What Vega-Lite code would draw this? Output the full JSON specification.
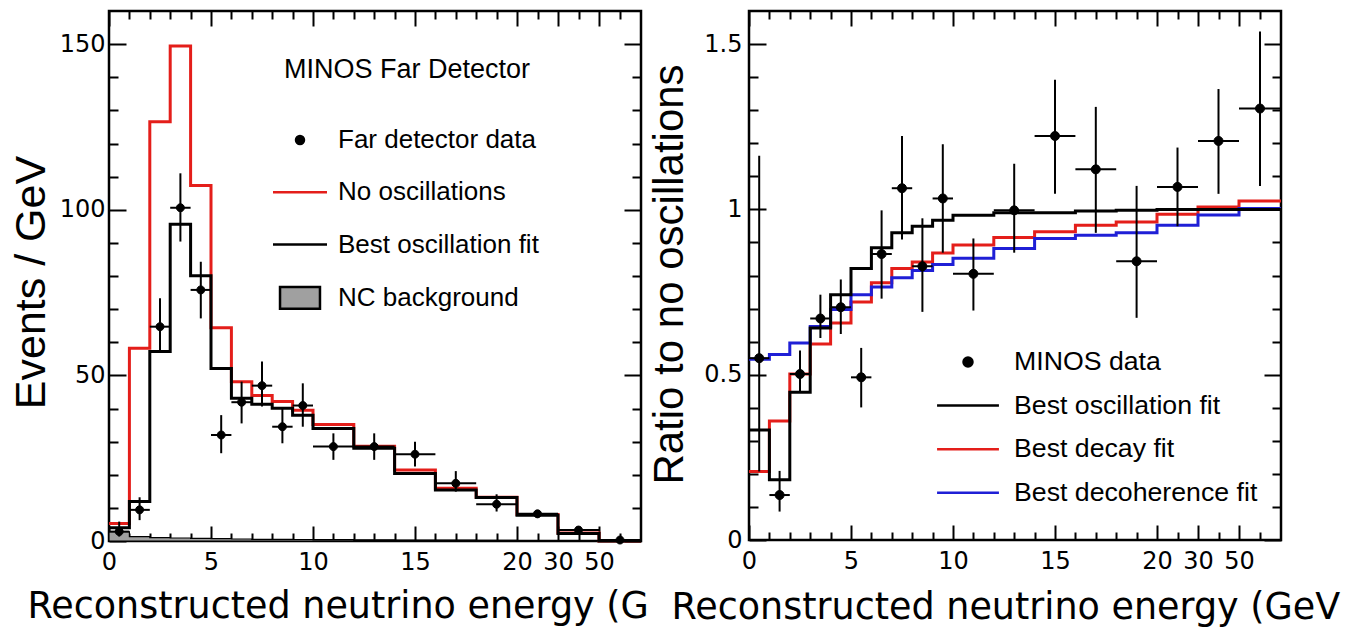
{
  "$schema": "https://vega.github.io/schema/vega-lite/v6.json",
  "background": "white",
  "padding": {"left": 8, "top": 8, "right": 0, "bottom": 0},
  "bounds": "flush",
  "spacing": 108,
  "datasets": {
    "far_hist": [
      {"s": "No oscillations", "E": 0, "v": 5.3}, {"s": "No oscillations", "E": 1, "v": 58.2}, {"s": "No oscillations", "E": 2, "v": 126.6}, {"s": "No oscillations", "E": 3, "v": 149.4}, {"s": "No oscillations", "E": 4, "v": 107.3}, {"s": "No oscillations", "E": 5, "v": 64.4}, {"s": "No oscillations", "E": 6, "v": 48.1}, {"s": "No oscillations", "E": 7, "v": 43.9}, {"s": "No oscillations", "E": 8, "v": 42.1}, {"s": "No oscillations", "E": 9, "v": 39.5}, {"s": "No oscillations", "E": 10, "v": 35.2}, {"s": "No oscillations", "E": 12, "v": 28.6}, {"s": "No oscillations", "E": 14, "v": 21.4}, {"s": "No oscillations", "E": 16, "v": 15.9}, {"s": "No oscillations", "E": 18, "v": 13.2}, {"s": "No oscillations", "E": 20, "v": 8.0}, {"s": "No oscillations", "E": 30, "v": 2.4}, {"s": "No oscillations", "E": 50, "v": 0}, {"s": "No oscillations", "E": 100, "v": 0},
      {"s": "Best oscillation fit", "E": 0, "v": 4.0}, {"s": "Best oscillation fit", "E": 1, "v": 11.9}, {"s": "Best oscillation fit", "E": 2, "v": 57.2}, {"s": "Best oscillation fit", "E": 3, "v": 95.6}, {"s": "Best oscillation fit", "E": 4, "v": 80.1}, {"s": "Best oscillation fit", "E": 5, "v": 52.1}, {"s": "Best oscillation fit", "E": 6, "v": 43.1}, {"s": "Best oscillation fit", "E": 7, "v": 41.3}, {"s": "Best oscillation fit", "E": 8, "v": 40.1}, {"s": "Best oscillation fit", "E": 9, "v": 38.0}, {"s": "Best oscillation fit", "E": 10, "v": 34.0}, {"s": "Best oscillation fit", "E": 12, "v": 28.0}, {"s": "Best oscillation fit", "E": 14, "v": 20.4}, {"s": "Best oscillation fit", "E": 16, "v": 15.4}, {"s": "Best oscillation fit", "E": 18, "v": 13.1}, {"s": "Best oscillation fit", "E": 20, "v": 7.8}, {"s": "Best oscillation fit", "E": 30, "v": 2.3}, {"s": "Best oscillation fit", "E": 50, "v": 0}, {"s": "Best oscillation fit", "E": 100, "v": 0},
      {"s": "NC background", "E": 0, "v": 2.8}, {"s": "NC background", "E": 1, "v": 1.3}, {"s": "NC background", "E": 2, "v": 1.0}, {"s": "NC background", "E": 3, "v": 0.9}, {"s": "NC background", "E": 4, "v": 0.8}, {"s": "NC background", "E": 5, "v": 0.7}, {"s": "NC background", "E": 6, "v": 0.6}, {"s": "NC background", "E": 7, "v": 0.5}, {"s": "NC background", "E": 8, "v": 0.5}, {"s": "NC background", "E": 9, "v": 0.45}, {"s": "NC background", "E": 10, "v": 0.4}, {"s": "NC background", "E": 12, "v": 0.35}, {"s": "NC background", "E": 14, "v": 0.3}, {"s": "NC background", "E": 16, "v": 0.25}, {"s": "NC background", "E": 18, "v": 0.2}, {"s": "NC background", "E": 20, "v": 0.15}, {"s": "NC background", "E": 30, "v": 0.1}, {"s": "NC background", "E": 50, "v": 0}, {"s": "NC background", "E": 100, "v": 0}
    ],
    "far_pts": [
      {"s": "Far detector data", "E": 0.5, "lo": 0, "hi": 1, "v": 2.84, "vlo": 1.33, "vhi": 5.86},
      {"s": "Far detector data", "E": 1.5, "lo": 1, "hi": 2, "v": 9.4, "vlo": 6.3, "vhi": 13.2},
      {"s": "Far detector data", "E": 2.5, "lo": 2, "hi": 3, "v": 64.7, "vlo": 57.2, "vhi": 73.3},
      {"s": "Far detector data", "E": 3.5, "lo": 3, "hi": 4, "v": 100.6, "vlo": 90.4, "vhi": 111.0},
      {"s": "Far detector data", "E": 4.5, "lo": 4, "hi": 5, "v": 75.8, "vlo": 67.2, "vhi": 84.3},
      {"s": "Far detector data", "E": 5.5, "lo": 5, "hi": 6, "v": 32.0, "vlo": 26.5, "vhi": 38.0},
      {"s": "Far detector data", "E": 6.5, "lo": 6, "hi": 7, "v": 41.9, "vlo": 35.5, "vhi": 48.1},
      {"s": "Far detector data", "E": 7.5, "lo": 7, "hi": 8, "v": 46.9, "vlo": 40.6, "vhi": 54.2},
      {"s": "Far detector data", "E": 8.5, "lo": 8, "hi": 9, "v": 34.5, "vlo": 29.5, "vhi": 40.1},
      {"s": "Far detector data", "E": 9.5, "lo": 9, "hi": 10, "v": 40.9, "vlo": 34.5, "vhi": 47.6},
      {"s": "Far detector data", "E": 11, "lo": 10, "hi": 12, "v": 28.5, "vlo": 24.5, "vhi": 32.5},
      {"s": "Far detector data", "E": 13, "lo": 12, "hi": 14, "v": 28.5, "vlo": 24.5, "vhi": 32.5},
      {"s": "Far detector data", "E": 15, "lo": 14, "hi": 16, "v": 26.2, "vlo": 22.5, "vhi": 30.0},
      {"s": "Far detector data", "E": 17, "lo": 16, "hi": 18, "v": 17.4, "vlo": 14.9, "vhi": 21.1},
      {"s": "Far detector data", "E": 19, "lo": 18, "hi": 20, "v": 11.1, "vlo": 8.9, "vhi": 14.1},
      {"s": "Far detector data", "E": 25, "lo": 20, "hi": 30, "v": 8.2, "vlo": 7.0, "vhi": 9.3},
      {"s": "Far detector data", "E": 40, "lo": 30, "hi": 50, "v": 3.3, "vlo": 2.5, "vhi": 4.1},
      {"s": "Far detector data", "E": 75, "lo": 50, "hi": 100, "v": 0.3, "vlo": 0, "vhi": 0.6}
    ],
    "ratio_hist": [
      {"s": "Best decay fit", "E": 0, "v": 0.207}, {"s": "Best decay fit", "E": 1, "v": 0.36}, {"s": "Best decay fit", "E": 2, "v": 0.502}, {"s": "Best decay fit", "E": 3, "v": 0.593}, {"s": "Best decay fit", "E": 4, "v": 0.656}, {"s": "Best decay fit", "E": 5, "v": 0.72}, {"s": "Best decay fit", "E": 6, "v": 0.778}, {"s": "Best decay fit", "E": 7, "v": 0.821}, {"s": "Best decay fit", "E": 8, "v": 0.841}, {"s": "Best decay fit", "E": 9, "v": 0.868}, {"s": "Best decay fit", "E": 10, "v": 0.892}, {"s": "Best decay fit", "E": 12, "v": 0.915}, {"s": "Best decay fit", "E": 14, "v": 0.932}, {"s": "Best decay fit", "E": 16, "v": 0.952}, {"s": "Best decay fit", "E": 18, "v": 0.962}, {"s": "Best decay fit", "E": 20, "v": 0.985}, {"s": "Best decay fit", "E": 30, "v": 1.007}, {"s": "Best decay fit", "E": 50, "v": 1.025}, {"s": "Best decay fit", "E": 100, "v": 1.025},
      {"s": "Best decoherence fit", "E": 0, "v": 0.547}, {"s": "Best decoherence fit", "E": 1, "v": 0.561}, {"s": "Best decoherence fit", "E": 2, "v": 0.596}, {"s": "Best decoherence fit", "E": 3, "v": 0.646}, {"s": "Best decoherence fit", "E": 4, "v": 0.697}, {"s": "Best decoherence fit", "E": 5, "v": 0.742}, {"s": "Best decoherence fit", "E": 6, "v": 0.765}, {"s": "Best decoherence fit", "E": 7, "v": 0.793}, {"s": "Best decoherence fit", "E": 8, "v": 0.815}, {"s": "Best decoherence fit", "E": 9, "v": 0.833}, {"s": "Best decoherence fit", "E": 10, "v": 0.852}, {"s": "Best decoherence fit", "E": 12, "v": 0.882}, {"s": "Best decoherence fit", "E": 14, "v": 0.912}, {"s": "Best decoherence fit", "E": 16, "v": 0.922}, {"s": "Best decoherence fit", "E": 18, "v": 0.929}, {"s": "Best decoherence fit", "E": 20, "v": 0.952}, {"s": "Best decoherence fit", "E": 30, "v": 0.983}, {"s": "Best decoherence fit", "E": 50, "v": 1.003}, {"s": "Best decoherence fit", "E": 100, "v": 1.003},
      {"s": "Best oscillation fit", "E": 0, "v": 0.333}, {"s": "Best oscillation fit", "E": 1, "v": 0.182}, {"s": "Best oscillation fit", "E": 2, "v": 0.447}, {"s": "Best oscillation fit", "E": 3, "v": 0.641}, {"s": "Best oscillation fit", "E": 4, "v": 0.742}, {"s": "Best oscillation fit", "E": 5, "v": 0.821}, {"s": "Best oscillation fit", "E": 6, "v": 0.884}, {"s": "Best oscillation fit", "E": 7, "v": 0.929}, {"s": "Best oscillation fit", "E": 8, "v": 0.949}, {"s": "Best oscillation fit", "E": 9, "v": 0.967}, {"s": "Best oscillation fit", "E": 10, "v": 0.982}, {"s": "Best oscillation fit", "E": 12, "v": 0.99}, {"s": "Best oscillation fit", "E": 14, "v": 0.99}, {"s": "Best oscillation fit", "E": 16, "v": 0.995}, {"s": "Best oscillation fit", "E": 18, "v": 0.997}, {"s": "Best oscillation fit", "E": 20, "v": 1.0}, {"s": "Best oscillation fit", "E": 30, "v": 1.0}, {"s": "Best oscillation fit", "E": 50, "v": 1.0}, {"s": "Best oscillation fit", "E": 100, "v": 1.0}
    ],
    "ratio_pts": [
      {"s": "MINOS data", "E": 0.5, "lo": 0, "hi": 1, "v": 0.55, "vlo": 0.207, "vhi": 1.162},
      {"s": "MINOS data", "E": 1.5, "lo": 1, "hi": 2, "v": 0.136, "vlo": 0.086, "vhi": 0.209},
      {"s": "MINOS data", "E": 2.5, "lo": 2, "hi": 3, "v": 0.502, "vlo": 0.447, "vhi": 0.573},
      {"s": "MINOS data", "E": 3.5, "lo": 3, "hi": 4, "v": 0.67, "vlo": 0.611, "vhi": 0.742},
      {"s": "MINOS data", "E": 4.5, "lo": 4, "hi": 5, "v": 0.704, "vlo": 0.623, "vhi": 0.788},
      {"s": "MINOS data", "E": 5.5, "lo": 5, "hi": 6, "v": 0.492, "vlo": 0.401, "vhi": 0.581},
      {"s": "MINOS data", "E": 6.5, "lo": 6, "hi": 7, "v": 0.865, "vlo": 0.73, "vhi": 0.997},
      {"s": "MINOS data", "E": 7.5, "lo": 7, "hi": 8, "v": 1.064, "vlo": 0.909, "vhi": 1.222},
      {"s": "MINOS data", "E": 8.5, "lo": 8, "hi": 9, "v": 0.828, "vlo": 0.69, "vhi": 0.973},
      {"s": "MINOS data", "E": 9.5, "lo": 9, "hi": 10, "v": 1.033, "vlo": 0.869, "vhi": 1.197},
      {"s": "MINOS data", "E": 11, "lo": 10, "hi": 12, "v": 0.805, "vlo": 0.694, "vhi": 0.912},
      {"s": "MINOS data", "E": 13, "lo": 12, "hi": 14, "v": 0.997, "vlo": 0.869, "vhi": 1.138},
      {"s": "MINOS data", "E": 15, "lo": 14, "hi": 16, "v": 1.222, "vlo": 1.047, "vhi": 1.392},
      {"s": "MINOS data", "E": 17, "lo": 16, "hi": 18, "v": 1.121, "vlo": 0.929, "vhi": 1.31},
      {"s": "MINOS data", "E": 19, "lo": 18, "hi": 20, "v": 0.843, "vlo": 0.672, "vhi": 1.071},
      {"s": "MINOS data", "E": 25, "lo": 20, "hi": 30, "v": 1.068, "vlo": 0.949, "vhi": 1.187},
      {"s": "MINOS data", "E": 40, "lo": 30, "hi": 50, "v": 1.207, "vlo": 1.047, "vhi": 1.364},
      {"s": "MINOS data", "E": 75, "lo": 50, "hi": 100, "v": 1.305, "vlo": 1.071, "vhi": 1.538}
    ]
  },
  "hconcat": [
    {
      "width": 532,
      "height": 530,
      "title": {"text": "MINOS Far Detector", "anchor": "start", "frame": "group", "orient": "top", "offset": 0, "dx": 175, "dy": 95, "baseline": "alphabetic", "font": "Liberation Sans", "fontSize": 27, "fontWeight": "normal", "color": "black"},
      "layer": [
        {
          "data": {"name": "far_hist"},
          "transform": [{"filter": "datum.s === 'No oscillations'"}],
          "mark": {"type": "line", "interpolate": "step-after", "color": "#e41e1a", "strokeWidth": 3},
          "encoding": {
            "x": {"field": "E", "type": "quantitative", "scale": {"type": "linear", "domain": [0, 20, 30, 50, 100], "range": [0, 408, 449, 490, 532], "nice": false, "zero": false},
              "axis": {"orient": "bottom", "values": [0, 5, 10, 15, 20, 30, 50], "tickSize": -15, "labelPadding": 24, "labelOverlap": false, "labelFlush": false, "format": "d",
                "title": "Reconstructed neutrino energy (G", "titleX": -82, "titleY": 76, "titleAlign": "left", "titleBaseline": "alphabetic", "titleFont": "DejaVu Sans", "titleFontSize": 36.5}},
            "y": {"field": "v", "type": "quantitative", "scale": {"domain": [0, 160], "nice": false},
              "axis": {"orient": "left", "values": [0, 50, 100, 150], "tickSize": -17, "labelPadding": 21, "format": "d",
                "title": "Events / GeV", "titleX": -65, "titleY": 271, "titleAngle": -90, "titleAlign": "center", "titleBaseline": "alphabetic", "titleFont": "Liberation Sans", "titleFontSize": 43}}
          }
        },
        {
          "data": {"name": "far_hist"},
          "transform": [{"filter": "datum.s === 'Best oscillation fit'"}],
          "mark": {"type": "line", "interpolate": "step-after", "color": "black", "strokeWidth": 3},
          "encoding": {
            "x": {"field": "E", "type": "quantitative", "axis": {"orient": "bottom", "values": [1, 2, 3, 4, 6, 7, 8, 9, 11, 12, 13, 14, 16, 17, 18, 19, 25, 40, 75], "tickSize": -8, "labels": false, "title": null}},
            "y": {"field": "v", "type": "quantitative", "axis": {"orient": "left", "values": [10, 20, 30, 40, 60, 70, 80, 90, 110, 120, 130, 140], "tickSize": -9, "labels": false, "title": null}}
          }
        },
        {
          "data": {"name": "far_hist"},
          "transform": [{"filter": "datum.s === 'NC background'"}],
          "mark": {"type": "area", "interpolate": "step-after", "fill": "#a0a0a0", "stroke": "black", "strokeWidth": 1.2},
          "encoding": {
            "x": {"field": "E", "type": "quantitative", "axis": {"orient": "top", "values": [0, 5, 10, 15, 20, 30, 50], "tickSize": -15, "labels": false, "title": null}},
            "y": {"field": "v", "type": "quantitative", "axis": {"orient": "right", "values": [0, 50, 100, 150], "tickSize": -17, "labels": false, "title": null}}
          }
        },
        {
          "data": {"name": "far_pts"},
          "mark": {"type": "rule", "color": "black", "strokeWidth": 2},
          "encoding": {
            "x": {"field": "lo", "type": "quantitative", "axis": {"orient": "top", "values": [1, 2, 3, 4, 6, 7, 8, 9, 11, 12, 13, 14, 16, 17, 18, 19, 25, 40, 75], "tickSize": -8, "labels": false, "title": null}},
            "x2": {"field": "hi"},
            "y": {"field": "v", "type": "quantitative", "axis": {"orient": "right", "values": [10, 20, 30, 40, 60, 70, 80, 90, 110, 120, 130, 140], "tickSize": -9, "labels": false, "title": null}}
          }
        },
        {
          "data": {"name": "far_pts"},
          "mark": {"type": "rule", "color": "black", "strokeWidth": 2},
          "encoding": {
            "x": {"field": "E", "type": "quantitative", "axis": null},
            "y": {"field": "vlo", "type": "quantitative", "axis": null},
            "y2": {"field": "vhi"}
          }
        },
        {
          "data": {"name": "far_pts"},
          "mark": {"type": "point", "filled": true, "opacity": 1, "size": 729, "strokeWidth": 1},
          "encoding": {
            "x": {"field": "E", "type": "quantitative", "axis": null},
            "y": {"field": "v", "type": "quantitative", "axis": null},
            "fill": {"field": "s", "type": "nominal", "scale": {"domain": ["Far detector data", "No oscillations", "Best oscillation fit", "NC background"], "range": ["black", "black", "black", "#a0a0a0"]},
              "legend": {"orient": "none", "legendX": 176, "legendY": 114, "title": null, "padding": 0, "labelFont": "Liberation Sans", "labelFontSize": 26, "labelColor": "black", "labelLimit": 500, "labelOffset": 23, "symbolSize": 729, "symbolStrokeWidth": 2.5, "rowPadding": 24.3, "symbolOpacity": 1}},
            "stroke": {"field": "s", "type": "nominal", "scale": {"domain": ["Far detector data", "No oscillations", "Best oscillation fit", "NC background"], "range": ["black", "#e41e1a", "black", "black"]},
              "legend": {"orient": "none", "legendX": 176, "legendY": 114, "title": null, "padding": 0, "labelFont": "Liberation Sans", "labelFontSize": 26, "labelColor": "black", "labelLimit": 500, "labelOffset": 23, "symbolSize": 729, "symbolStrokeWidth": 2.5, "rowPadding": 24.3, "symbolOpacity": 1}},
            "shape": {"field": "s", "type": "nominal", "scale": {"domain": ["Far detector data", "No oscillations", "Best oscillation fit", "NC background"], "range": ["M-0.296,0A0.296,0.296,0,1,1,0.296,0A0.296,0.296,0,1,1,-0.296,0Z", "M-2,0L2,0", "M-2,0L2,0", "M-1.48,-0.8H1.48V0.8H-1.48Z"]},
              "legend": {"orient": "none", "legendX": 176, "legendY": 114, "title": null, "padding": 0, "labelFont": "Liberation Sans", "labelFontSize": 26, "labelColor": "black", "labelLimit": 500, "labelOffset": 23, "symbolSize": 729, "symbolStrokeWidth": 2.5, "rowPadding": 24.3, "symbolOpacity": 1}}
          }
        }
      ],
      "resolve": {"axis": {"x": "independent", "y": "independent"}}
    },
    {
      "width": 532,
      "height": 529,
      "layer": [
        {
          "data": {"name": "ratio_hist"},
          "transform": [{"filter": "datum.s === 'Best decay fit'"}],
          "mark": {"type": "line", "interpolate": "step-after", "color": "#e41e1a", "strokeWidth": 3},
          "encoding": {
            "x": {"field": "E", "type": "quantitative", "scale": {"type": "linear", "domain": [0, 20, 30, 50, 100], "range": [0, 408, 449, 490, 532], "nice": false, "zero": false},
              "axis": {"orient": "bottom", "values": [0, 5, 10, 15, 20, 30, 50], "tickSize": -15, "labelPadding": 24, "labelOverlap": false, "labelFlush": false, "format": "d",
                "title": "Reconstructed neutrino energy (GeV", "titleX": -78, "titleY": 78, "titleAlign": "left", "titleBaseline": "alphabetic", "titleFont": "DejaVu Sans", "titleFontSize": 36.5}},
            "y": {"field": "v", "type": "quantitative", "scale": {"domain": [0, 1.6], "nice": false},
              "axis": {"orient": "left", "values": [0, 0.5, 1, 1.5], "tickSize": -17, "labelPadding": 24, "format": "~g",
                "title": "Ratio to no oscillations", "titleX": -67, "titleY": 263, "titleAngle": -90, "titleAlign": "center", "titleBaseline": "alphabetic", "titleFont": "Liberation Sans", "titleFontSize": 42}}
          }
        },
        {
          "data": {"name": "ratio_hist"},
          "transform": [{"filter": "datum.s === 'Best decoherence fit'"}],
          "mark": {"type": "line", "interpolate": "step-after", "color": "#1f1fd6", "strokeWidth": 3},
          "encoding": {
            "x": {"field": "E", "type": "quantitative", "axis": {"orient": "bottom", "values": [1, 2, 3, 4, 6, 7, 8, 9, 11, 12, 13, 14, 16, 17, 18, 19, 25, 40, 75], "tickSize": -8, "labels": false, "title": null}},
            "y": {"field": "v", "type": "quantitative", "axis": {"orient": "left", "values": [0.1, 0.2, 0.3, 0.4, 0.6, 0.7, 0.8, 0.9, 1.1, 1.2, 1.3, 1.4], "tickSize": -9, "labels": false, "title": null}}
          }
        },
        {
          "data": {"name": "ratio_hist"},
          "transform": [{"filter": "datum.s === 'Best oscillation fit'"}],
          "mark": {"type": "line", "interpolate": "step-after", "color": "black", "strokeWidth": 3},
          "encoding": {
            "x": {"field": "E", "type": "quantitative", "axis": {"orient": "top", "values": [0, 5, 10, 15, 20, 30, 50], "tickSize": -15, "labels": false, "title": null}},
            "y": {"field": "v", "type": "quantitative", "axis": {"orient": "right", "values": [0, 0.5, 1, 1.5], "tickSize": -17, "labels": false, "title": null}}
          }
        },
        {
          "mark": {"type": "rule", "color": "black", "strokeWidth": 2.5, "strokeDash": [2.5, 3.5]},
          "encoding": {
            "y": {"datum": 1.017, "type": "quantitative", "axis": null}
          }
        },
        {
          "data": {"name": "ratio_pts"},
          "mark": {"type": "rule", "color": "black", "strokeWidth": 2},
          "encoding": {
            "x": {"field": "lo", "type": "quantitative", "axis": {"orient": "top", "values": [1, 2, 3, 4, 6, 7, 8, 9, 11, 12, 13, 14, 16, 17, 18, 19, 25, 40, 75], "tickSize": -8, "labels": false, "title": null}},
            "x2": {"field": "hi"},
            "y": {"field": "v", "type": "quantitative", "axis": {"orient": "right", "values": [0.1, 0.2, 0.3, 0.4, 0.6, 0.7, 0.8, 0.9, 1.1, 1.2, 1.3, 1.4], "tickSize": -9, "labels": false, "title": null}}
          }
        },
        {
          "data": {"name": "ratio_pts"},
          "mark": {"type": "rule", "color": "black", "strokeWidth": 2},
          "encoding": {
            "x": {"field": "E", "type": "quantitative", "axis": null},
            "y": {"field": "vlo", "type": "quantitative", "axis": null},
            "y2": {"field": "vhi"}
          }
        },
        {
          "data": {"name": "ratio_pts"},
          "mark": {"type": "point", "filled": true, "opacity": 1, "size": 756, "strokeWidth": 1},
          "encoding": {
            "x": {"field": "E", "type": "quantitative", "axis": null},
            "y": {"field": "v", "type": "quantitative", "axis": null},
            "fill": {"field": "s", "type": "nominal", "scale": {"domain": ["MINOS data", "Best oscillation fit", "Best decay fit", "Best decoherence fit"], "range": ["black", "black", "black", "black"]},
              "legend": {"orient": "none", "legendX": 204, "legendY": 336, "title": null, "padding": 0, "labelFont": "Liberation Sans", "labelFontSize": 26.7, "labelColor": "black", "labelLimit": 500, "labelOffset": 31, "symbolSize": 756, "symbolStrokeWidth": 2.5, "rowPadding": 14.6, "symbolOpacity": 1}},
            "stroke": {"field": "s", "type": "nominal", "scale": {"domain": ["MINOS data", "Best oscillation fit", "Best decay fit", "Best decoherence fit"], "range": ["black", "black", "#e41e1a", "#1f1fd6"]},
              "legend": {"orient": "none", "legendX": 204, "legendY": 336, "title": null, "padding": 0, "labelFont": "Liberation Sans", "labelFontSize": 26.7, "labelColor": "black", "labelLimit": 500, "labelOffset": 31, "symbolSize": 756, "symbolStrokeWidth": 2.5, "rowPadding": 14.6, "symbolOpacity": 1}},
            "shape": {"field": "s", "type": "nominal", "scale": {"domain": ["MINOS data", "Best oscillation fit", "Best decay fit", "Best decoherence fit"], "range": ["M-0.327,0A0.327,0.327,0,1,1,0.327,0A0.327,0.327,0,1,1,-0.327,0Z", "M-2.25,0L2.25,0", "M-2.25,0L2.25,0", "M-2.25,0L2.25,0"]},
              "legend": {"orient": "none", "legendX": 204, "legendY": 336, "title": null, "padding": 0, "labelFont": "Liberation Sans", "labelFontSize": 26.7, "labelColor": "black", "labelLimit": 500, "labelOffset": 31, "symbolSize": 756, "symbolStrokeWidth": 2.5, "rowPadding": 14.6, "symbolOpacity": 1}}
          }
        }
      ],
      "resolve": {"axis": {"x": "independent", "y": "independent"}}
    }
  ],
  "resolve": {
    "scale": {"fill": "independent", "stroke": "independent", "shape": "independent"},
    "legend": {"fill": "independent", "stroke": "independent", "shape": "independent"}
  },
  "config": {
    "font": "Liberation Sans",
    "axis": {"domain": false, "grid": false, "tickColor": "black", "tickWidth": 2, "labelColor": "black", "titleColor": "black", "labelFont": "DejaVu Sans", "labelFontSize": 24, "titleFontWeight": "normal"},
    "view": {"stroke": "black", "strokeWidth": 2.5}
  }
}
